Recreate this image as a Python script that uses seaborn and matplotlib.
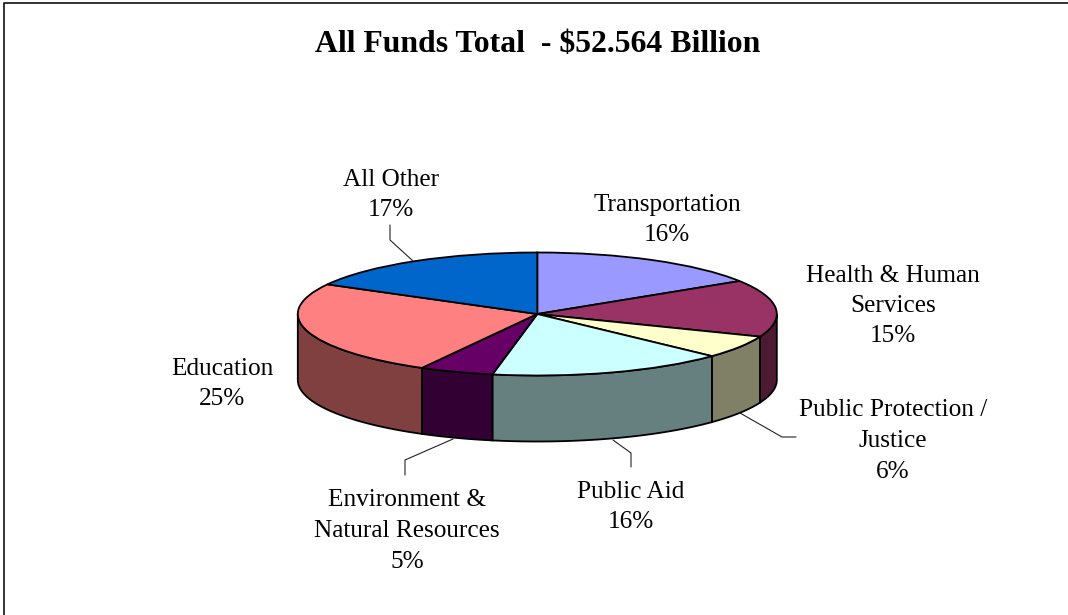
import numpy as np
import seaborn as sns
import matplotlib.pyplot as plt
from matplotlib.lines import Line2D

# budget shares, clockwise from the top
labels = ['Transportation\n16%', 'Health & Human\nServices\n15%', 'Public Protection /\nJustice\n6%',
          'Public Aid\n16%', 'Environment &\nNatural Resources\n5%', 'Education\n25%', 'All Other\n17%']
shares = [16, 15, 6, 16, 5, 25, 17]
top_colors = ['#9999FF', '#993366', '#FFFFCC', '#CCFFFF', '#660066', '#FF8080', '#0066CC']
side_colors = ['#4D4D80', '#4D1A33', '#808066', '#668080', '#330033', '#804040', '#003366']
title = 'All Funds Total  - $52.564 Billion'

# label centres in pixels
label_pos = [(667, 220), (893, 306), (893, 441), (631, 507), (407, 531), (222, 384), (391, 195)]
leaders = [
    [(390, 225), (390, 240), (413, 261)],
    [(405, 475), (405, 460), (453, 439)],
    [(631, 467), (631, 453), (613, 440)],
    [(796, 437), (782, 437), (740, 413)],
]

W, H = 1068, 615
cx, cy, rx, ry, depth = 537.3, 314, 239.5, 61.5, 66

sns.set_style('white')
plt.rcParams['font.family'] = ['Liberation Serif', 'DejaVu Serif']
fig = plt.figure(figsize=(W / 100, H / 100), dpi=100)
ax = fig.add_axes([0, 0, 1, 1])

wedges, _ = ax.pie(shares, colors=top_colors, startangle=90, counterclock=False,
                   wedgeprops={'edgecolor': 'black', 'linewidth': 1.3, 'zorder': 3})

# side walls, only the front half of the rim shows
edges = 90 - np.cumsum([0] + shares) * 3.6
drop = depth / ry
for i in range(len(shares)):
    a, b = edges[i + 1], edges[i]
    a, b = a % 360, (b % 360 if b % 360 > a % 360 else b % 360 + 360)
    a, b = max(a, 180), min(b, 360)
    if b <= a:
        continue
    t = np.radians(np.linspace(a, b, 60))
    xs = np.r_[np.cos(t), np.cos(t[::-1])]
    ys = np.r_[np.sin(t), np.sin(t[::-1]) - drop]
    ax.fill(xs, ys, facecolor=side_colors[i], edgecolor='black', linewidth=1.3, zorder=2)

ax.set_aspect('auto')
ax.set_xlim(-cx / rx, (W - cx) / rx)
ax.set_ylim((cy - H) / ry, cy / ry)

for pts in leaders:
    x, y = zip(*pts)
    fig.add_artist(Line2D(np.array(x) / W, 1 - np.array(y) / H, color='#222222', lw=0.8))
for text, (x, y) in zip(labels, label_pos):
    fig.text(x / W, 1 - y / H, text, ha='center', va='center', fontsize=18.2, linespacing=1.5, color='black')
fig.text(538 / W, 1 - 45 / H, title, ha='center', va='center', fontsize=22.9, fontweight='bold', color='black')

# chart border, top and left only
fig.add_artist(Line2D([3.5 / W, 3.5 / W, 1], [0, 1 - 2.5 / H, 1 - 2.5 / H], color='#111111', lw=1.2))
fig.savefig('out.png', dpi=100)
